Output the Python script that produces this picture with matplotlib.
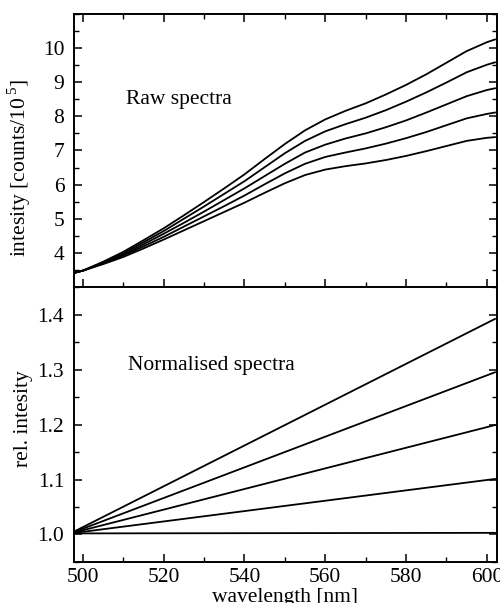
import matplotlib
matplotlib.use("Agg")
import matplotlib.pyplot as plt
from matplotlib.ticker import MultipleLocator, FixedLocator

plt.rcParams['font.family'] = ['Liberation Serif', 'DejaVu Serif']
plt.rcParams['mathtext.fontset'] = 'custom'
plt.rcParams['mathtext.rm'] = 'Liberation Serif'

# ---- data ----
wavelength = [498, 500, 505, 510, 515, 520, 525, 530, 535, 540, 545, 550,
              555, 560, 565, 570, 575, 580, 585, 590, 595, 600, 602]

raw_1 = [3.42, 3.48, 3.74, 4.03, 4.37, 4.72, 5.10, 5.49, 5.89, 6.30, 6.75, 7.19,
         7.59, 7.91, 8.16, 8.38, 8.64, 8.92, 9.23, 9.57, 9.91, 10.17, 10.25]
raw_2 = [3.42, 3.48, 3.72, 3.99, 4.31, 4.64, 5.00, 5.36, 5.73, 6.10, 6.51, 6.92,
         7.28, 7.56, 7.77, 7.96, 8.18, 8.43, 8.70, 8.99, 9.29, 9.51, 9.58]
raw_3 = [3.42, 3.48, 3.70, 3.95, 4.25, 4.56, 4.88, 5.21, 5.55, 5.89, 6.25, 6.61,
         6.94, 7.17, 7.35, 7.50, 7.68, 7.88, 8.11, 8.35, 8.59, 8.77, 8.82]
raw_4 = [3.42, 3.48, 3.69, 3.92, 4.19, 4.47, 4.77, 5.07, 5.37, 5.68, 6.01, 6.33,
         6.61, 6.81, 6.94, 7.06, 7.20, 7.36, 7.54, 7.74, 7.94, 8.07, 8.11]
raw_5 = [3.42, 3.48, 3.67, 3.88, 4.13, 4.39, 4.66, 4.93, 5.20, 5.47, 5.76, 6.04,
         6.28, 6.44, 6.54, 6.62, 6.72, 6.84, 6.98, 7.13, 7.28, 7.37, 7.39]

norm_wavelength = [498, 602]
norm_1 = [1.006, 1.392]
norm_2 = [1.005, 1.295]
norm_3 = [1.004, 1.199]
norm_4 = [1.003, 1.101]
norm_5 = [1.002, 1.003]

raw_series = [raw_1, raw_2, raw_3, raw_4, raw_5]
norm_series = [norm_1, norm_2, norm_3, norm_4, norm_5]

xticks = [500, 520, 540, 560, 580, 600]
raw_yticks = [4, 5, 6, 7, 8, 9, 10]
norm_yticks = [1.0, 1.1, 1.2, 1.3, 1.4]
norm_yticklabels = ['1.0', '1.1', '1.2', '1.3', '1.4']

# ---- figure ----
fig = plt.figure(figsize=(5.0, 6.03), dpi=100)
ax1 = fig.add_axes([0.148, 0.524, 0.846, 0.453])
ax2 = fig.add_axes([0.148, 0.068, 0.846, 0.456])

FS = 15.5
for ax in (ax1, ax2):
    for s in ax.spines.values():
        s.set_linewidth(1.4)
    ax.set_xlim(497.8, 602.5)
    ax.xaxis.set_major_locator(FixedLocator(xticks))
    ax.xaxis.set_minor_locator(MultipleLocator(10))
    ax.tick_params(which='major', direction='in', length=6, width=1.1,
                   labelsize=FS, right=True)
    ax.tick_params(which='minor', direction='in', length=3.5, width=1.0,
                   right=True)
    ax.tick_params(axis='y', pad=7)

for vals in raw_series:
    ax1.plot(wavelength, vals, color='black', lw=1.3)
ax1.set_ylim(3, 11)
ax1.yaxis.set_major_locator(FixedLocator(raw_yticks))
ax1.yaxis.set_minor_locator(MultipleLocator(0.5))
ax1.tick_params(axis='x', which='both', top=True, labelbottom=False)
ax1.set_ylabel('intesity [counts/10$^{\\,5}$]', fontsize=FS)
ax1.yaxis.set_label_coords(-0.097, 0.436)
ax1.text(510.6, 8.49, 'Raw spectra', fontsize=FS, va='center', ha='left')

for vals in norm_series:
    ax2.plot(norm_wavelength, vals, color='black', lw=1.3)
ax2.set_ylim(0.95, 1.45)
ax2.yaxis.set_major_locator(FixedLocator(norm_yticks))
ax2.set_yticklabels(norm_yticklabels)
ax2.yaxis.set_minor_locator(MultipleLocator(0.05))
ax2.tick_params(axis='x', which='both', top=False, pad=4)
ax2.set_ylabel('rel. intesity', fontsize=FS)
ax2.yaxis.set_label_coords(-0.097, 0.52)
ax2.set_xlabel('wavelength [nm]', fontsize=FS, labelpad=1)
ax2.text(511.1, 1.308, 'Normalised spectra', fontsize=FS, va='center', ha='left')

fig.savefig('out.png', dpi=100)
